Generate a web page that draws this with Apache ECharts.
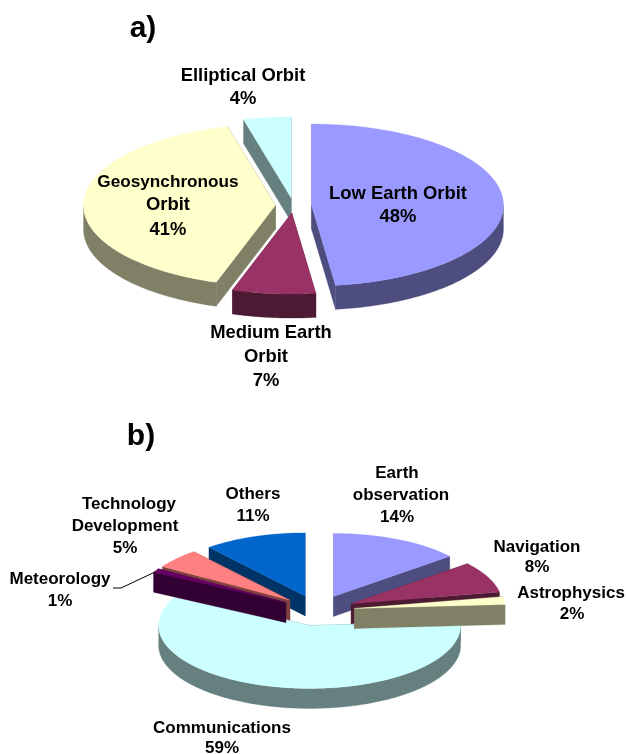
<!DOCTYPE html>
<html>
<head>
<meta charset="utf-8">
<style>html,body{margin:0;padding:0;background:#fff}#c{width:626px;height:754px}</style>
<script src="https://cdn.jsdelivr.net/npm/echarts@6/dist/echarts.min.js"></script>
</head>
<body>
<div id="c"></div>
<script>
// ---- data ----
var orbitNames = ['Low Earth Orbit', 'Medium Earth Orbit', 'Geosynchronous Orbit', 'Elliptical Orbit'];
var orbitValues = [48, 7, 41, 4];
var missionNames = ['Earth observation', 'Navigation', 'Astrophysics', 'Communications', 'Meteorology', 'Technology Development', 'Others'];
var missionValues = [14, 8, 2, 59, 1, 5, 11];

// ---- styles ----
var orbitTop = ['#9999FF', '#993366', '#FFFFCC', '#CCFFFF'];
var orbitSide = ['#4D4D80', '#4D1A33', '#808066', '#668080'];
var missionTop = ['#9999FF', '#993366', '#FFFFCC', '#CCFFFF', '#660066', '#FF8080', '#0066CC'];
var missionSide = ['#4D4D80', '#4D1A33', '#808066', '#668080', '#330033', '#804040', '#003366'];
var orbitPaintOrder = [3, 2, 1, 0];
var missionPaintOrder = [3, 6, 0, 1, 2, 5, 4];
var orbitPie = {cx: 293.5, cy: 205.5, rx: 192, ry: 81, explode: 18, depth: 24};
var missionPie = {cx: 317.7, cy: 610.4, rx: 151, ry: 63, explode: 37, depth: 20};

// ---- label layout: [text, x, y, size] per line; the percent lines come from the values ----
var orbitLabelLines = [
  ['Low Earth Orbit', 398, 194, 18.4], [orbitValues[0] + '%', 398, 217, 18.4],
  ['Medium Earth', 271, 333, 18.4], ['Orbit', 266, 357, 18.4], [orbitValues[1] + '%', 266, 381, 18.4],
  ['Geosynchronous', 168, 182, 17.2], ['Orbit', 168, 205, 18.4], [orbitValues[2] + '%', 168, 230, 18.4],
  ['Elliptical Orbit', 243, 76, 18.4], [orbitValues[3] + '%', 243, 99, 18.4]
];
var missionLabelLines = [
  ['Earth', 397, 473, 17], ['observation', 401, 495, 17], [missionValues[0] + '%', 397, 517, 17],
  ['Navigation', 537, 547, 17], [missionValues[1] + '%', 537, 567, 17],
  ['Astrophysics', 571, 593, 17], [missionValues[2] + '%', 572, 614, 17],
  ['Communications', 222, 728, 17], [missionValues[3] + '%', 222, 748, 17],
  ['Meteorology', 60, 579, 17], [missionValues[4] + '%', 60, 601, 17],
  ['Technology', 129, 504, 17], ['Development', 125, 526, 17], [missionValues[5] + '%', 125, 548, 17],
  ['Others', 253, 494, 17], [missionValues[6] + '%', 253, 516, 17]
];
var panelTitles = [['a)', 143, 29, 30], ['b)', 141, 437, 30]];
var leaderLine = [[113, 588], [121, 588], [155, 572]];

// ---- drawing ----
function pieSeries(values, names, tops, sides, order, g) {
  var total = values.reduce(function (s, v) { return s + v; }, 0);
  var starts = [], acc = 0;
  values.forEach(function (v) { starts.push(acc); acc += v; });
  return {
    type: 'custom',
    coordinateSystem: 'none',
    silent: true,
    data: values.map(function (v, i) { return {name: names[i], value: [v, starts[i], i]}; }),
    renderItem: function (params, api) {
      var v = api.value(0), s = api.value(1), i = api.value(2);
      var a0 = s / total * 360, a1 = (s + v) / total * 360;
      var mid = (a0 + a1) / 2 * Math.PI / 180;
      var k = g.ry / g.rx;
      var cx = g.cx + g.explode * Math.sin(mid);
      var cy = g.cy - g.explode * k * Math.cos(mid);
      function pt(deg, dy) {
        var t = deg * Math.PI / 180;
        return [cx + g.rx * Math.sin(t), cy - g.ry * Math.cos(t) + (dy || 0)];
      }
      function arc(from, to, dy) {
        var pts = [], n = Math.max(2, Math.ceil(Math.abs(to - from) * 2));
        for (var j = 0; j <= n; j++) pts.push(pt(from + (to - from) * j / n, dy));
        return pts;
      }
      var base = order.indexOf(i) * 10 + 1;
      var kids = [];
      function poly(points, fill, z) {
        kids.push({type: 'polygon', z2: base + z, silent: true,
          shape: {points: points}, style: {fill: fill, stroke: fill, lineWidth: 0.3}});
      }
      // cut faces
      [a0, a1].forEach(function (a) {
        var p = pt(a), q = pt(a, g.depth);
        poly([[cx, cy], p, q, [cx, cy + g.depth]], sides[i], 0);
      });
      // outer rim, front half only
      var f0 = Math.max(a0, 90), f1 = Math.min(a1, 270);
      if (f1 > f0) poly(arc(f0, f1).concat(arc(f1, f0, g.depth)), sides[i], 1);
      // top face
      poly([[cx, cy]].concat(arc(a0, a1)), tops[i], 2);
      return {type: 'group', children: kids};
    }
  };
}

function textEl(line) {
  return {type: 'text', x: line[1], y: line[2], z: 10, silent: true,
    style: {text: line[0], fill: '#000', align: 'center', verticalAlign: 'middle',
      font: 'bold ' + line[3] + 'px "Liberation Sans", Arial, sans-serif'}};
}

var chart = echarts.init(document.getElementById('c'), null, {renderer: 'canvas', width: 626, height: 754});
chart.setOption({
  animation: false,
  backgroundColor: '#fff',
  series: [
    pieSeries(orbitValues, orbitNames, orbitTop, orbitSide, orbitPaintOrder, orbitPie),
    pieSeries(missionValues, missionNames, missionTop, missionSide, missionPaintOrder, missionPie)
  ],
  graphic: {elements:
    panelTitles.concat(orbitLabelLines, missionLabelLines).map(textEl)
      .concat([{type: 'polyline', z: 10, silent: true, shape: {points: leaderLine},
        style: {stroke: '#000', lineWidth: 1, fill: null}}])
  }
});
</script>
</body>
</html>
